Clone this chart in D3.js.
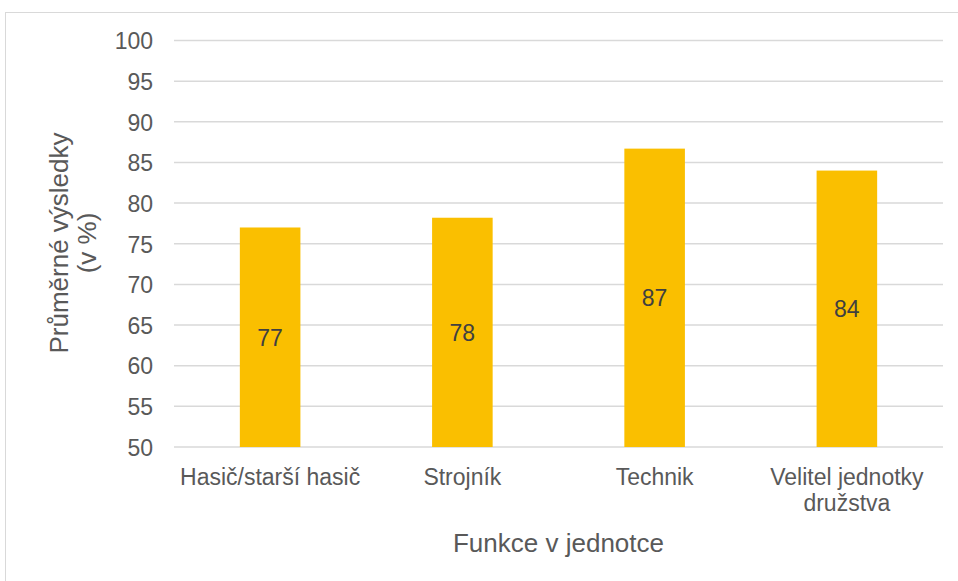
<!DOCTYPE html>
<html>
<head>
<meta charset="utf-8">
<title>Průměrné výsledky</title>
<script src="https://cdn.jsdelivr.net/npm/d3@7"></script>
<style>
  body { margin: 0; background: #ffffff; }
  text { font-family: "Liberation Sans", Arial, sans-serif; }
</style>
</head>
<body>
<script>
// chart data
var categories = ["Hasič/starší hasič", "Strojník", "Technik", "Velitel jednotky|družstva"];
var values = [77.0, 78.2, 86.7, 84.0];
var yTicks = [50, 55, 60, 65, 70, 75, 80, 85, 90, 95, 100];

var w = 958;
var h = 581;
var plotLeft = 174;
var plotRight = 943;
var plotTop = 40.5;
var plotBottom = 447;

var textColor = "#595959";
var gridColor = "#d9d9d9";
var barColor = "#fabf00";

window.onload = function() {
  var svg = d3.select("body")
              .append("svg")
              .attr("width", w)
              .attr("height", h);

  // outer chart border
  svg.append("rect")
     .attr("x", 5.5)
     .attr("y", 12.5)
     .attr("width", 1000)
     .attr("height", 1000)
     .attr("fill", "none")
     .attr("stroke", gridColor)
     .attr("stroke-width", 1);

  var x = d3.scaleBand()
            .domain(categories)
            .range([plotLeft, plotRight])
            .paddingInner(0.685)
            .paddingOuter(0.3425);

  var y = d3.scaleLinear()
            .domain([50, 100])
            .range([plotBottom, plotTop]);

  drawGrid(svg, x, y);
  drawBars(svg, x, y);
  drawLabels(svg, x, y);
};

function drawGrid(svg, x, y) {
  // horizontal gridlines
  svg.selectAll(".grid")
     .data(yTicks)
     .enter().append("line")
     .attr("class", "grid")
     .attr("x1", plotLeft)
     .attr("x2", plotRight)
     .attr("y1", function(d) { return y(d); })
     .attr("y2", function(d) { return y(d); })
     .attr("stroke", gridColor)
     .attr("stroke-width", 1.5);

  // y axis tick labels
  var yAxis = svg.append("g")
     .attr("transform", "translate(" + plotLeft + ",0)")
     .call(d3.axisLeft(y).tickValues(yTicks).tickSize(0).tickPadding(21));
  yAxis.select(".domain").remove();
  yAxis.selectAll("text")
       .attr("fill", textColor)
       .style("font-size", "23px")
       .attr("dy", "0.36em");
}

function drawBars(svg, x, y) {
  svg.selectAll(".bar")
     .data(values)
     .enter().append("rect")
     .attr("class", "bar")
     .attr("x", function(d, i) { return x(categories[i]); })
     .attr("y", function(d) { return y(d); })
     .attr("width", x.bandwidth())
     .attr("height", function(d) { return y(50) - y(d); })
     .attr("fill", barColor);

  // value labels in the middle of the bars
  svg.selectAll(".value")
     .data(values)
     .enter().append("text")
     .attr("class", "value")
     .attr("x", function(d, i) { return x(categories[i]) + x.bandwidth() / 2; })
     .attr("y", function(d) { return (y(d) + y(50)) / 2; })
     .attr("dy", "0.36em")
     .attr("text-anchor", "middle")
     .attr("fill", "#404040")
     .style("font-size", "23px")
     .text(function(d) { return Math.round(d); });
}

function drawLabels(svg, x, y) {
  // x axis category labels, split on "|"
  var cats = svg.selectAll(".cat")
     .data(categories)
     .enter().append("text")
     .attr("class", "cat")
     .attr("text-anchor", "middle")
     .attr("fill", textColor)
     .style("font-size", "23px");

  cats.each(function(d) {
    var lines = d.split("|");
    var t = d3.select(this);
    lines.forEach(function(line, i) {
      t.append("tspan")
       .attr("x", x(d) + x.bandwidth() / 2)
       .attr("y", 485 + i * 26)
       .text(line);
    });
  });

  // x axis title
  svg.append("text")
     .attr("x", (plotLeft + plotRight) / 2)
     .attr("y", 552)
     .attr("text-anchor", "middle")
     .attr("fill", textColor)
     .style("font-size", "26px")
     .text("Funkce v jednotce");

  // y axis title, two lines
  var yTitle = svg.append("text")
     .attr("transform", "rotate(-90)")
     .attr("text-anchor", "middle")
     .attr("fill", textColor)
     .style("font-size", "26px");

  yTitle.append("tspan")
        .attr("x", -243)
        .attr("y", 68)
        .text("Průměrné výsledky");
  yTitle.append("tspan")
        .attr("x", -243)
        .attr("y", 96)
        .text("(v %)");
}
</script>
</body>
</html>
